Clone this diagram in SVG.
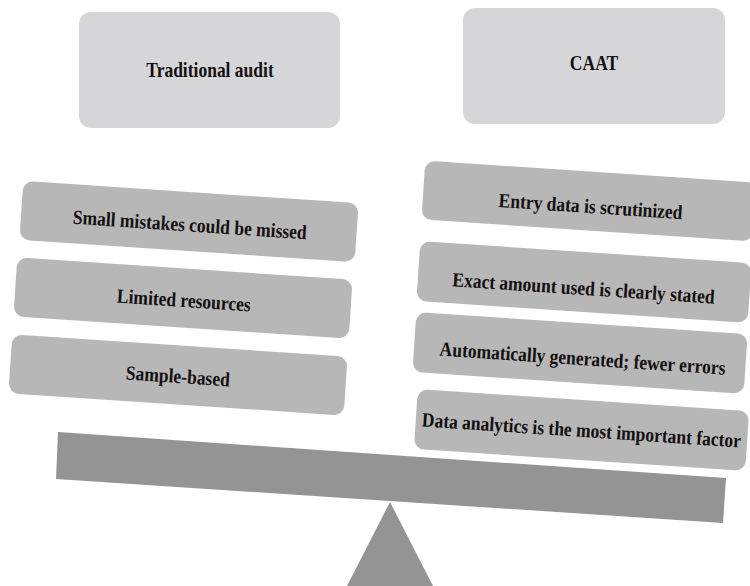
<svg xmlns="http://www.w3.org/2000/svg" width="750" height="586" viewBox="0 0 750 586">
  <style>
    .head { fill: #d6d6d8; }
    .item { fill: #b8b7b8; }
    .label { font-family: "Liberation Serif", "Times New Roman", serif; font-weight: bold; font-size: 17.5px; fill: #141010; text-anchor: middle; dominant-baseline: central; }
    .scale { fill: #959495; }
  </style>
  <rect width="750" height="586" fill="#ffffff"/>

  <!-- balance: beam and fulcrum -->
  <g id="balance">
    <polygon class="scale" points="347,586 390,502 433,586"/>
    <polygon class="scale" points="58,432 726,478 723,523 56,479"/>
  </g>

  <!-- column headings (labels slightly stretched vertically) -->
  <g id="traditional-audit">
    <rect class="head" x="79" y="12" width="261" height="116" rx="12"/>
    <text class="label" transform="translate(210,70) scale(1,1.15)">Traditional audit</text>
  </g>
  <g id="caat">
    <rect class="head" x="463" y="8" width="262" height="116" rx="12"/>
    <text class="label" transform="translate(594,63) scale(1,1.15)">CAAT</text>
  </g>

  <!-- left pan -->
  <g id="small-mistakes" transform="translate(189,221.5) rotate(3.8)">
    <rect class="item" x="-168" y="-29.5" width="336" height="59" rx="10"/>
    <text class="label" transform="translate(1,3) scale(1,1.15)">Small mistakes could be missed</text>
  </g>
  <g id="limited-resources" transform="translate(183,298) rotate(3.8)">
    <rect class="item" x="-168" y="-29.5" width="336" height="59" rx="10"/>
    <text class="label" transform="translate(1,2) scale(1,1.15)">Limited resources</text>
  </g>
  <g id="sample-based" transform="translate(178,375) rotate(3.8)">
    <rect class="item" x="-168" y="-29.5" width="336" height="59" rx="10"/>
    <text class="label" transform="translate(0,1) scale(1,1.15)">Sample-based</text>
  </g>

  <!-- right pan -->
  <g id="entry-data" transform="translate(589,201) rotate(3.8)">
    <rect class="item" x="-166" y="-29.5" width="332" height="59" rx="10"/>
    <text class="label" transform="translate(2,5) scale(1,1.15)">Entry data is scrutinized</text>
  </g>
  <g id="exact-amount" transform="translate(584,282) rotate(3.8)">
    <rect class="item" x="-166" y="-30" width="332" height="60" rx="10"/>
    <text class="label" transform="translate(0,6) scale(1,1.15)">Exact amount used is clearly stated</text>
  </g>
  <g id="automatically-generated" transform="translate(580,353) rotate(3.8)">
    <rect class="item" x="-166" y="-30" width="332" height="60" rx="10"/>
    <text class="label" transform="translate(3,5) scale(1,1.15)">Automatically generated; fewer errors</text>
  </g>
  <g id="data-analytics" transform="translate(581.5,430) rotate(3.8)">
    <rect class="item" x="-166" y="-30" width="332" height="60" rx="10"/>
    <text class="label" transform="translate(0,0) scale(1,1.15)">Data analytics is the most important factor</text>
  </g>
</svg>
